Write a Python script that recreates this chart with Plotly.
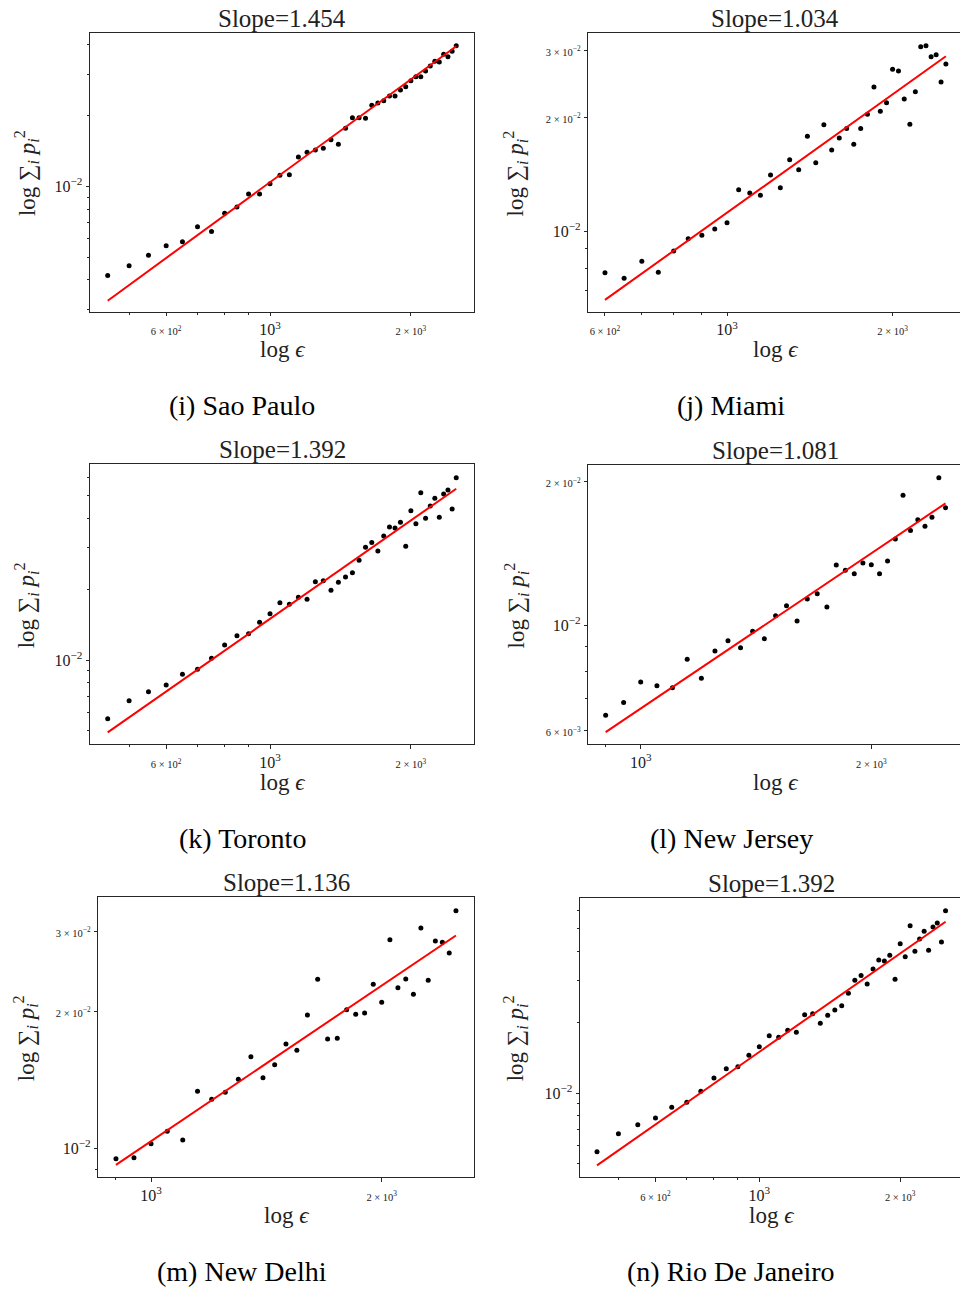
import plotly.graph_objects as go

W, H = 960, 1292
SERIF = "Liberation Serif"
FRAME = "#262626"

# ---------------- data: box size epsilon vs sum_i p_i^2 ----------------
sao_paulo_eps = [450, 500, 550, 600, 650, 700, 750, 800, 850, 900, 950, 1000, 1050, 1100,
                 1150, 1200, 1250, 1300, 1350, 1400, 1450, 1500, 1550, 1600, 1650, 1700,
                 1750, 1800, 1850, 1900, 1950, 2000, 2050, 2100, 2150, 2200, 2250, 2300,
                 2350, 2400, 2450, 2500]
sao_paulo_p2 = [0.00417, 0.00459, 0.00509, 0.00559, 0.00581, 0.00673, 0.00643, 0.00768,
                0.00816, 0.00927, 0.00927, 0.01026, 0.01114, 0.01121, 0.01332, 0.01395,
                0.01427, 0.01451, 0.01579, 0.01509, 0.01766, 0.01958, 0.01958, 0.01947,
                0.02211, 0.02262, 0.02314, 0.02423, 0.02423, 0.02569, 0.02653, 0.02814,
                0.02927, 0.02927, 0.03094, 0.03250, 0.03403, 0.03380, 0.03646, 0.03561,
                0.03755, 0.03966]
sao_paulo_slope = 1.454
sao_paulo_fit_1000 = 0.01041

miami_eps = [600, 650, 700, 750, 800, 850, 900, 950, 1000, 1050, 1100, 1150, 1200, 1250,
             1300, 1350, 1400, 1450, 1500, 1550, 1600, 1650, 1700, 1750, 1800, 1850, 1900,
             1950, 2000, 2050, 2100, 2150, 2200, 2250, 2300, 2350, 2400, 2450, 2500]
miami_p2 = [0.00779, 0.00753, 0.00835, 0.00781, 0.00889, 0.00957, 0.00977, 0.01015,
            0.01055, 0.01288, 0.01263, 0.01245, 0.01408, 0.01304, 0.01545, 0.01454,
            0.01780, 0.01517, 0.01910, 0.01638, 0.01762, 0.01868, 0.01696, 0.01868,
            0.02035, 0.02401, 0.02072, 0.02183, 0.02672, 0.02645, 0.02232, 0.01915,
            0.02333, 0.03064, 0.03083, 0.02884, 0.02919, 0.02474, 0.02760]
miami_slope = 1.034
miami_fit_1000 = 0.01121

toronto_eps = [450, 500, 550, 600, 650, 700, 750, 800, 850, 900, 950, 1000, 1050, 1100,
               1150, 1200, 1250, 1300, 1350, 1400, 1450, 1500, 1550, 1600, 1650, 1700,
               1750, 1800, 1850, 1900, 1950, 2000, 2050, 2100, 2150, 2200, 2250, 2300,
               2350, 2400, 2450, 2500]
toronto_p2 = [0.00563, 0.00671, 0.00733, 0.00783, 0.00869, 0.00913, 0.01017, 0.01158,
              0.01269, 0.01294, 0.01446, 0.01575, 0.01754, 0.01725, 0.01848, 0.01812,
              0.02154, 0.02176, 0.01980, 0.02140, 0.02255, 0.02353, 0.02655, 0.03016,
              0.03166, 0.02910, 0.03371, 0.03681, 0.03645, 0.03853, 0.03045, 0.04320,
              0.03802, 0.05153, 0.04007, 0.04521, 0.04874, 0.04046, 0.05086, 0.05289,
              0.04391, 0.05970]
toronto_slope = 1.392
toronto_fit_1000 = 0.01496

new_jersey_eps = [900, 950, 1000, 1050, 1100, 1150, 1200, 1250, 1300, 1350, 1400, 1450,
                  1500, 1550, 1600, 1650, 1700, 1750, 1800, 1850, 1900, 1950, 2000, 2050,
                  2100, 2150, 2200, 2250, 2300, 2350, 2400, 2450, 2500]
new_jersey_p2 = [0.006465, 0.006876, 0.007595, 0.007462, 0.007390, 0.008475, 0.007731,
                 0.008820, 0.009272, 0.008963, 0.009698, 0.009362, 0.01046, 0.01098,
                 0.01020, 0.01134, 0.01163, 0.01091, 0.01336, 0.01302, 0.01281, 0.01349,
                 0.01338, 0.01281, 0.01362, 0.01514, 0.01870, 0.01579, 0.01663, 0.01610,
                 0.01682, 0.02037, 0.01762]
new_jersey_slope = 1.081
new_jersey_fit_1000 = 0.006683

new_delhi_eps = [900, 950, 1000, 1050, 1100, 1150, 1200, 1250, 1300, 1350, 1400, 1450,
                 1500, 1550, 1600, 1650, 1700, 1750, 1800, 1850, 1900, 1950, 2000, 2050,
                 2100, 2150, 2200, 2250, 2300, 2350, 2400, 2450, 2500]
new_delhi_p2 = [0.009483, 0.009530, 0.01023, 0.01089, 0.01042, 0.01334, 0.01281, 0.01327,
                0.01417, 0.01589, 0.01429, 0.01526, 0.01694, 0.01641, 0.01962, 0.02351,
                0.01738, 0.01744, 0.02016, 0.01969, 0.01982, 0.02292, 0.02093, 0.02872,
                0.02253, 0.02354, 0.02179, 0.03048, 0.02339, 0.02853, 0.02835, 0.02685,
                0.03327]
new_delhi_slope = 1.136
new_delhi_fit_1000 = 0.01036

rio_eps = [450, 500, 550, 600, 650, 700, 750, 800, 850, 900, 950, 1000, 1050, 1100,
           1150, 1200, 1250, 1300, 1350, 1400, 1450, 1500, 1550, 1600, 1650, 1700,
           1750, 1800, 1850, 1900, 1950, 2000, 2050, 2100, 2150, 2200, 2250, 2300,
           2350, 2400, 2450, 2500]
rio_p2 = [0.00563, 0.00671, 0.00733, 0.00783, 0.00869, 0.00913, 0.01017, 0.01158,
          0.01269, 0.01294, 0.01446, 0.01575, 0.01754, 0.01725, 0.01848, 0.01812,
          0.02154, 0.02176, 0.01980, 0.02140, 0.02255, 0.02353, 0.02655, 0.03016,
          0.03166, 0.02910, 0.03371, 0.03681, 0.03645, 0.03853, 0.03045, 0.04320,
          0.03802, 0.05153, 0.04007, 0.04521, 0.04874, 0.04046, 0.05086, 0.05289,
          0.04391, 0.05970]
rio_slope = 1.392
rio_fit_1000 = 0.01496

captions = ["(i) Sao Paulo", "(j) Miami", "(k) Toronto",
            "(l) New Jersey", "(m) New Delhi", "(n) Rio De Janeiro"]

# tick labels: (value, text, small)
x_ticks_wide = [(600, "6 × 10<sup>2</sup>", True), (1000, "10<sup>3</sup>", False),
                (2000, "2 × 10<sup>3</sup>", True)]
x_ticks_narrow = [(1000, "10<sup>3</sup>", False), (2000, "2 × 10<sup>3</sup>", True)]
y_ticks_single = [(0.01, "10<sup>−2</sup>", False)]
y_ticks_123 = [(0.01, "10<sup>−2</sup>", False), (0.02, "2 × 10<sup>−2</sup>", True),
               (0.03, "3 × 10<sup>−2</sup>", True)]
y_ticks_nj = [(0.006, "6 × 10<sup>−3</sup>", True), (0.01, "10<sup>−2</sup>", False),
              (0.02, "2 × 10<sup>−2</sup>", True)]

# ---------------- panel geometry (pixels) ----------------
# frame = (left, right, top, bottom); right panels run past the page edge
panels = [
    dict(eps=sao_paulo_eps, p2=sao_paulo_p2, slope=sao_paulo_slope, c=sao_paulo_fit_1000,
         frame=(90, 474, 32.5, 311.7), xr=(2.6154, 3.4359), yr=(-2.5336, -1.3455),
         xt=x_ticks_wide, xm=[500, 700, 800, 900],
         yt=y_ticks_single, ym=[0.003, 0.004, 0.005, 0.006, 0.007, 0.008, 0.009, 0.02, 0.03, 0.04],
         cut=False, cx=282, cap_x=242, ytx=26),
    dict(eps=miami_eps, p2=miami_p2, slope=miami_slope, c=miami_fit_1000,
         frame=(588.3, 960, 33.3, 311.7), xr=(2.7478, 3.4236), yr=(-2.211, -1.4784),
         xt=x_ticks_wide, xm=[700, 800, 900],
         yt=y_ticks_123, ym=[0.007, 0.008, 0.009],
         cut=True, cx=775, cap_x=731, ytx=515),
    dict(eps=toronto_eps, p2=toronto_p2, slope=toronto_slope, c=toronto_fit_1000,
         frame=(90, 474, 464.3, 744.3), xr=(2.6154, 3.4359), yr=(-2.3587, -1.1672),
         xt=x_ticks_wide, xm=[500, 700, 800, 900],
         yt=y_ticks_single, ym=[0.005, 0.006, 0.007, 0.008, 0.009, 0.02, 0.03, 0.04, 0.05, 0.06],
         cut=False, cx=282, cap_x=242, ytx=26),
    dict(eps=new_jersey_eps, p2=new_jersey_p2, slope=new_jersey_slope, c=new_jersey_fit_1000,
         frame=(588.3, 960, 464.7, 744.3), xr=(2.9316, 3.4168), yr=(-2.2501, -1.6639),
         xt=x_ticks_narrow, xm=[900],
         yt=y_ticks_nj, ym=[0.007, 0.008, 0.009],
         cut=True, cx=775, cap_x=731, ytx=516),
    dict(eps=new_delhi_eps, p2=new_delhi_p2, slope=new_delhi_slope, c=new_delhi_fit_1000,
         frame=(98.3, 474, 897.3, 1177), xr=(2.9312, 3.4215), yr=(-2.0633, -1.4486),
         xt=x_ticks_narrow, xm=[900],
         yt=y_ticks_123, ym=[0.009],
         cut=False, cx=286, cap_x=242, ytx=25),
    dict(eps=rio_eps, p2=rio_p2, slope=rio_slope, c=rio_fit_1000,
         frame=(580, 960, 897.7, 1177), xr=(2.6169, 3.4288), yr=(-2.3574, -1.1689),
         xt=x_ticks_wide, xm=[500, 700, 800, 900],
         yt=y_ticks_single, ym=[0.005, 0.006, 0.007, 0.008, 0.009, 0.02, 0.03, 0.04, 0.05, 0.06],
         cut=True, cx=771.5, cap_x=731, ytx=515),
]


def fx(px):
    return px / W


def fy(px):
    return 1 - px / H


def tick_text(t, small):
    if small:
        return f'<span style="font-size:10.5px">{t}</span>'
    return t


fig = go.Figure()
annotations = []
layout = dict(width=W, height=H, margin=dict(l=0, r=0, t=0, b=0),
              paper_bgcolor="white", plot_bgcolor="white", showlegend=False)

for k, (p, cap) in enumerate(zip(panels, captions), start=1):
    L, R, T, B = p["frame"]
    xa, ya = f"x{k}", f"y{k}"

    fig.add_trace(go.Scatter(x=p["eps"], y=p["p2"], mode="markers", xaxis=xa, yaxis=ya,
                             marker=dict(color="black", size=5, line=dict(width=0))))
    # least-squares fit: log p2 = slope * log eps + const
    e0, e1 = p["eps"][0], p["eps"][-1]
    fit_x = [e0, e1]
    fit_y = [p["c"] * (e / 1000) ** p["slope"] for e in fit_x]
    fig.add_trace(go.Scatter(x=fit_x, y=fit_y, mode="lines", xaxis=xa, yaxis=ya,
                             line=dict(color="#ff0000", width=2)))

    axis_common = dict(type="log", showline=True, linecolor=FRAME, linewidth=1,
                       ticks="outside", ticklen=3.5, tickwidth=1, tickcolor=FRAME,
                       showgrid=False, zeroline=False, fixedrange=True, tickmode="array",
                       tickfont=dict(family=SERIF, size=16, color="#1a1a1a"))
    layout[f"xaxis{k}"] = dict(
        axis_common, domain=[fx(L), fx(R)], range=list(p["xr"]), anchor=ya, mirror=True,
        tickvals=[v for v, _, _ in p["xt"]],
        ticktext=[tick_text(t, s) for _, t, s in p["xt"]],
        minor=dict(tickmode="array", tickvals=p["xm"], ticks="outside", ticklen=2,
                   tickwidth=1, tickcolor=FRAME, showgrid=False))
    layout[f"yaxis{k}"] = dict(
        axis_common, domain=[fy(B), fy(T)], range=list(p["yr"]), anchor=xa,
        mirror=not p["cut"],
        tickvals=[v for v, _, _ in p["yt"]],
        ticktext=[tick_text(t, s) for _, t, s in p["yt"]],
        minor=dict(tickmode="array", tickvals=p["ym"], ticks="outside", ticklen=2,
                   tickwidth=1, tickcolor=FRAME, showgrid=False))

    # panel title with the fitted slope
    annotations.append(dict(text=f"Slope={p['slope']:.3f}", x=fx(p["cx"]), y=fy(T - 14.5),
                            xref="paper", yref="paper", showarrow=False,
                            xanchor="center", yanchor="middle",
                            font=dict(family=SERIF, size=25, color="#222222")))
    # axis titles
    annotations.append(dict(text="log <i>ϵ</i>", x=fx(p["cx"]), y=fy(B + 38),
                            xref="paper", yref="paper", showarrow=False,
                            xanchor="center", yanchor="middle",
                            font=dict(family=SERIF, size=23, color="#222222")))
    annotations.append(dict(text="log ∑<sub><i>i</i></sub> <i>p</i><sub><i>i</i></sub><sup>2</sup>",
                            x=fx(p["ytx"]), y=fy((T + B) / 2 + 1),
                            xref="paper", yref="paper", showarrow=False, textangle=-90,
                            xanchor="center", yanchor="middle",
                            font=dict(family=SERIF, size=23, color="#222222")))
    # caption under the panel
    annotations.append(dict(text=cap, x=fx(p["cap_x"]), y=fy(B + 94),
                            xref="paper", yref="paper", showarrow=False,
                            xanchor="center", yanchor="middle",
                            font=dict(family=SERIF, size=28, color="black")))

layout["annotations"] = annotations
fig.update_layout(**layout)
fig.write_html("out.html")
